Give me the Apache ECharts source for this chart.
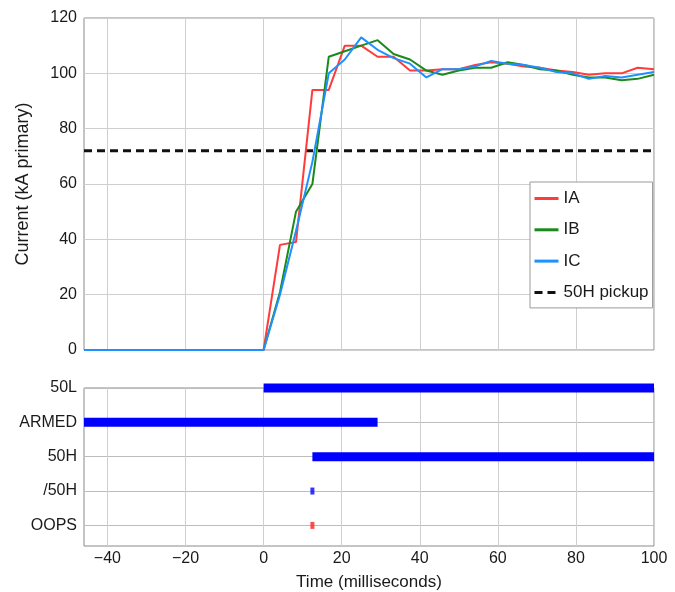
<!DOCTYPE html>
<html><head><meta charset="utf-8">
<script src="https://cdn.jsdelivr.net/npm/echarts@6/dist/echarts.min.js"></script>
<style>html,body{margin:0;padding:0;background:#fff}#c{width:675px;height:592px}</style>
</head><body><div id="c"></div>
<script>
// ---- data ----
const timeMs    = [-46, 0, 4.2, 8.3, 12.5, 16.7, 20.8, 25, 29.2, 33.3, 37.5, 41.7, 45.8, 50, 54.2, 58.3, 62.5, 66.7, 70.8, 75, 79.2, 83.3, 87.5, 91.7, 95.8, 100];
const currentIA = [0, 0, 38, 39, 94, 94, 110, 110, 106, 106, 101, 101, 101.5, 101.5, 103, 104, 103.5, 102.5, 102, 101, 100.5, 99.5, 100, 100, 102, 101.5];
const currentIB = [0, 0, 21, 50, 60, 106, 108, 110, 112, 107, 105, 101, 99.5, 101, 102, 102, 104, 103, 101.5, 101, 99.5, 98.5, 98.5, 97.5, 98, 99.5];
const currentIC = [0, 0, 20, 43, 68, 100, 105, 113, 108.5, 105.5, 103.5, 98.5, 101.5, 101.5, 102.5, 104.5, 103.5, 103, 102, 100.5, 100, 98, 99, 98.5, 99.5, 100.5];
const pickupTime  = [-46, 100];
const pickupLevel = [72, 72];
const currentTicks = [0, 20, 40, 60, 80, 100, 120];
const timeTicks = [-40, -20, 0, 20, 40, 60, 80, 100];
const signalNames = ['50L', 'ARMED', '50H', '/50H', 'OOPS'];
const signalRow   = [5, 4, 3, 2, 1];
const signalOn    = [0, -46, 12.5, 12.5, 12.5];
const signalOff   = [100, 29.2, 100, 12.5, 12.5];

// ---- chart ----
const FONT = '"Liberation Sans", Arial, Helvetica, sans-serif';
const TXT = '#1a1a1a';
const GRIDC = '#cfcfcf';
const XMIN = -46, XMAX = 100;
const fmtNum = v => v < 0 ? '\u2212' + (-v) : String(v);

const chart = echarts.init(document.getElementById('c'), null, {renderer: 'canvas'});

const lineSeries = [
  {name: 'IA', color: '#ff3b3b', data: currentIA},
  {name: 'IB', color: '#1a8a1a', data: currentIB},
  {name: 'IC', color: '#1e90ff', data: currentIC}
].map(s => ({
  name: s.name, type: 'line', xAxisIndex: 0, yAxisIndex: 0,
  data: timeMs.map((t, i) => [t, s.data[i]]),
  symbol: 'none', showSymbol: false, color: s.color,
  lineStyle: {width: 2, color: s.color}, animation: false, z: 3
}));

const pickupSeries = {
  name: '50H pickup', type: 'line', xAxisIndex: 0, yAxisIndex: 0,
  data: pickupTime.map((t, i) => [t, pickupLevel[i]]),
  symbol: 'none', showSymbol: false, color: '#111',
  lineStyle: {width: 3, type: [8, 5], color: '#111'}, animation: false, z: 2
};

const signalColors = ['#0000ff', '#0000ff', '#0000ff', '#0000ff', '#ff2020'];
const signalSeries = [];
signalNames.forEach((n, i) => {
  if (signalOff[i] > signalOn[i]) {
    signalSeries.push({
      name: n, type: 'line', xAxisIndex: 1, yAxisIndex: 1,
      data: [[signalOn[i], signalRow[i]], [signalOff[i], signalRow[i]]],
      symbol: 'none', showSymbol: false, clip: false,
      lineStyle: {width: 9, color: signalColors[i], cap: 'butt'}, animation: false, z: 3
    });
  } else {
    signalSeries.push({
      name: n, type: 'scatter', xAxisIndex: 1, yAxisIndex: 1,
      data: [[signalOn[i], signalRow[i]]],
      symbol: 'rect', symbolSize: [4, 7],
      itemStyle: {color: signalColors[i]}, animation: false, z: 3
    });
  }
});

const xCommon = {
  type: 'value', min: XMIN, max: XMAX,
  axisLine: {show: false}, axisTick: {show: false, customValues: timeTicks},
  splitLine: {show: true, lineStyle: {color: GRIDC, width: 1}}
};

chart.setOption({
  animation: false,
  backgroundColor: '#ffffff',
  textStyle: {fontFamily: FONT, color: TXT},
  grid: [
    {left: 84, right: 21, top: 18, height: 332, show: true, borderColor: '#8a8a8a', borderWidth: 1, backgroundColor: 'transparent', outerBoundsMode: 'none', containLabel: false},
    {left: 84, right: 21, top: 388, height: 158, show: true, borderColor: '#8a8a8a', borderWidth: 1, backgroundColor: 'transparent', outerBoundsMode: 'none', containLabel: false}
  ],
  xAxis: [
    Object.assign({}, xCommon, {gridIndex: 0, axisLabel: {show: false, customValues: timeTicks}}),
    Object.assign({}, xCommon, {
      gridIndex: 1,
      axisLabel: {show: true, customValues: timeTicks, formatter: fmtNum, fontSize: 16, color: TXT, fontFamily: FONT, margin: 5},
      name: 'Time (milliseconds)', nameLocation: 'middle', nameGap: 28,
      nameTextStyle: {fontSize: 17, color: TXT, fontFamily: FONT}
    })
  ],
  yAxis: [
    {
      type: 'value', gridIndex: 0, min: 0, max: 120, interval: 20,
      axisLine: {show: false}, axisTick: {show: false},
      axisLabel: {fontSize: 16, color: TXT, fontFamily: FONT, margin: 7},
      splitLine: {show: true, lineStyle: {color: GRIDC, width: 1}},
      name: 'Current (kA primary)', nameLocation: 'middle', nameGap: 52, nameRotate: 90,
      nameTextStyle: {fontSize: 18, color: TXT, fontFamily: FONT}
    },
    {
      type: 'value', gridIndex: 1, min: 0.4, max: 5,
      axisLine: {show: false}, axisTick: {show: false, customValues: signalRow},
      axisLabel: {customValues: signalRow, fontSize: 16, color: TXT, fontFamily: FONT, margin: 7,
        formatter: v => { const i = signalRow.indexOf(Math.round(v)); return i >= 0 ? signalNames[i] : ''; }},
      splitLine: {show: true, lineStyle: {color: '#bdbdbd', width: 1}}
    }
  ],
  legend: {
    data: ['IA', 'IB', 'IC', '50H pickup'],
    orient: 'vertical', left: 530, top: 182,
    padding: [8, 4, 7, 3], itemGap: 14.3, itemWidth: 24, itemHeight: 14,
    backgroundColor: '#ffffff', borderColor: '#9a9a9a', borderWidth: 1, borderRadius: 0,
    itemStyle: {opacity: 0, color: 'transparent', borderWidth: 0},
    lineStyle: {width: 3},
    textStyle: {fontSize: 17, color: TXT, fontFamily: FONT}
  },
  series: [...lineSeries, pickupSeries, ...signalSeries]
});
</script>
</body></html>
